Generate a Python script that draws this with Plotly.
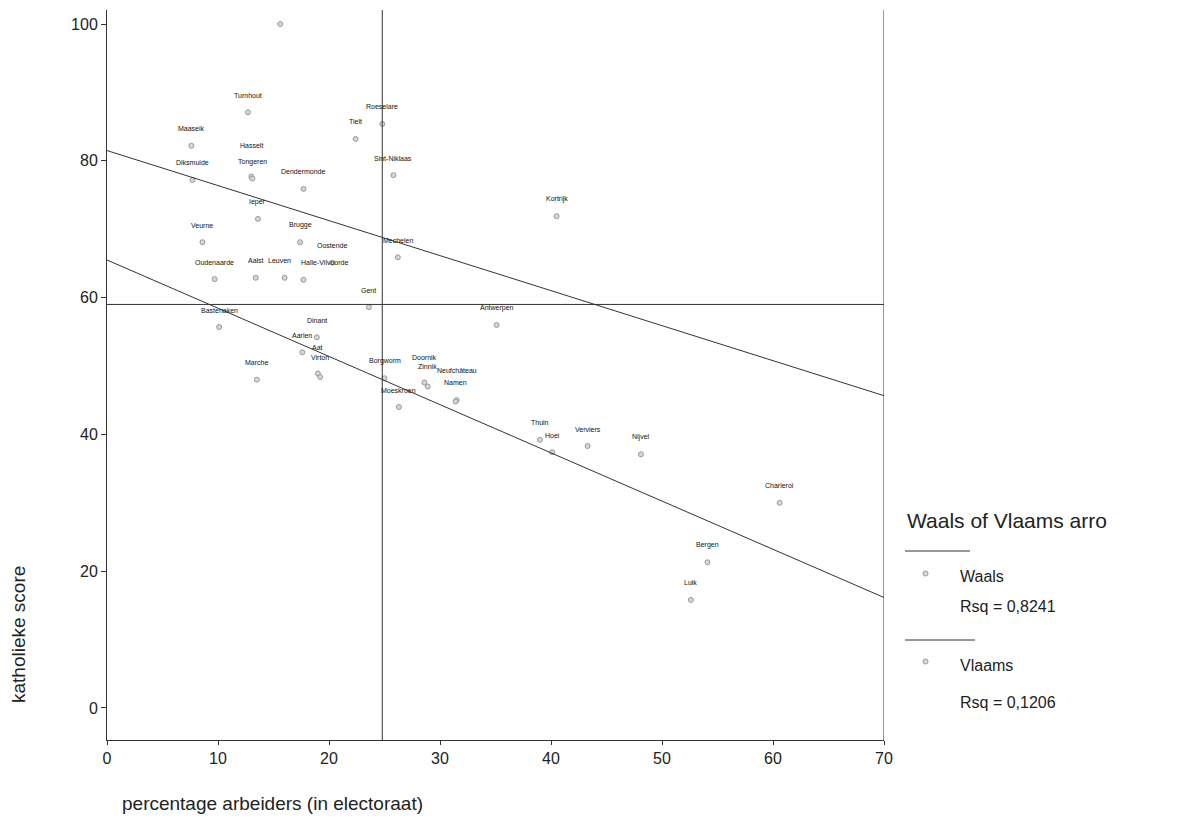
import numpy as np
import plotly.graph_objects as go

# ---- data ----
vlaams_names = ["", "Turnhout", "Maaseik", "Diksmuide", "Hasselt", "Tongeren", "Dendermonde",
                "Ieper", "Veurne", "Brugge", "Oostende", "Oudenaarde", "Aalst", "Leuven",
                "Halle-Vilvoorde", "Gent", "Mechelen", "Tielt", "Roeselare", "Sint-Niklaas",
                "Kortrijk", "Antwerpen"]
vlaams_x = [15.6, 12.7, 7.6, 7.7, 13.0, 13.1, 17.7, 13.6, 8.6, 17.4, 20.3, 9.7, 13.4, 16.0,
            17.7, 23.6, 26.2, 22.4, 24.8, 25.8, 40.5, 35.1]
vlaams_y = [100.0, 87.1, 82.2, 77.2, 77.7, 77.4, 75.9, 71.5, 68.1, 68.1, 65.1, 62.7, 62.9, 62.9,
            62.6, 58.6, 65.9, 83.2, 85.4, 77.9, 71.9, 56.0]

waals_names = ["Bastenaken", "Dinant", "Aarlen", "Aat", "Virton", "Marche", "Borgworm",
               "Doornik", "Zinnik", "Neufchâteau", "Namen", "Moeskroen", "Thuin", "Hoei",
               "Verviers", "Nijvel", "Charleroi", "Bergen", "Luik"]
waals_x = [10.1, 18.9, 17.6, 19.0, 19.2, 13.5, 25.0, 28.6, 28.9, 31.5, 31.4, 26.3, 39.0, 40.1,
           43.3, 48.1, 60.6, 54.1, 52.6]
waals_y = [55.7, 54.2, 52.0, 48.9, 48.4, 48.0, 48.2, 47.6, 47.0, 45.0, 44.8, 44.0, 39.2, 37.4,
           38.3, 37.1, 30.0, 21.3, 15.8]

# regression fits (intercept, slope) and R squared
vlaams_fit = [81.5, -0.512]
waals_fit = [65.5, -0.705]
rsq_waals = "0,8241"
rsq_vlaams = "0,1206"

# reference (mean) lines
mean_x = 24.8
mean_y = 59.0

x_ticks = [0, 10, 20, 30, 40, 50, 60, 70]
y_ticks = [0, 20, 40, 60, 80, 100]

# ---- label offsets (pixels, styling only) ----
extra_shift = {"Hasselt": 14, "Aat": 9, "Virton": 2, "Doornik": 8, "Zinnik": 3,
               "Neufchâteau": 13, "Namen": 2}
extra_xshift = {"Leuven": -5, "Halle-Vilvoorde": 21}

fig = go.Figure()

marker_style = dict(size=5, color="#d6d6d6", line=dict(color="#9a9a9a", width=1))

fig.add_trace(go.Scatter(x=vlaams_x, y=vlaams_y, mode="markers", marker=marker_style,
                         name="Vlaams", showlegend=False))
fig.add_trace(go.Scatter(x=waals_x, y=waals_y, mode="markers", marker=marker_style,
                         name="Waals", showlegend=False))

xs = np.array([0, 70])
for fit in (vlaams_fit, waals_fit):
    fig.add_trace(go.Scatter(x=xs, y=fit[0] + fit[1] * xs, mode="lines",
                             line=dict(color="#333333", width=1), showlegend=False,
                             hoverinfo="skip"))

annotations = []
for names, xv, yv in ((vlaams_names, vlaams_x, vlaams_y), (waals_names, waals_x, waals_y)):
    for n, x, y in zip(names, xv, yv):
        if not n:
            continue
        annotations.append(dict(x=x, y=y, xref="x", yref="y", text=n, showarrow=False,
                                yshift=17 + extra_shift.get(n, 0),
                                xshift=extra_xshift.get(n, 0),
                                font=dict(size=7, color="#111111", family="Liberation Sans")))

# legend as annotations
legend_font = dict(size=16, color="#222222", family="Liberation Sans")
annotations += [
    dict(x=905, y=820 - 520, xref="paper", yref="paper", text="Waals of Vlaams arro",
         showarrow=False, xanchor="left", yanchor="middle",
         font=dict(size=21, color="#222222", family="Liberation Sans")),
    dict(x=958, y=820 - 576, text="Waals", showarrow=False, xanchor="left", yanchor="middle",
         font=legend_font),
    dict(x=958, y=820 - 606, text="Rsq = " + rsq_waals, showarrow=False, xanchor="left",
         yanchor="middle", font=legend_font),
    dict(x=958, y=820 - 665, text="Vlaams", showarrow=False, xanchor="left", yanchor="middle",
         font=legend_font),
    dict(x=958, y=820 - 702, text="Rsq = " + rsq_vlaams, showarrow=False, xanchor="left",
         yanchor="middle", font=legend_font),
]
# convert legend pixel coordinates to paper coords
W, H = 1196, 820
ML, MR, MT, MB = 107, 312, 10, 80
pw, ph = W - ML - MR, H - MT - MB
for a in annotations:
    if a.get("xref") == "x":
        continue
    px, py = a["x"], a["y"]
    a["x"] = (px - ML) / pw
    a["y"] = (py - MB) / ph
    a["xref"] = "paper"
    a["yref"] = "paper"

# x-axis title and y-axis title as annotations
annotations.append(dict(x=(120 - ML) / pw, y=(820 - 803 - MB) / ph, xref="paper", yref="paper",
                        text="percentage arbeiders (in electoraat)", showarrow=False,
                        xanchor="left", yanchor="middle",
                        font=dict(size=19, color="#222222", family="Liberation Sans")))
annotations.append(dict(x=(18 - ML) / pw, y=(820 - 635 - MB) / ph, xref="paper", yref="paper",
                        text="katholieke score", showarrow=False, textangle=-90,
                        xanchor="center", yanchor="middle",
                        font=dict(size=19, color="#222222", family="Liberation Sans")))

def ppx(px):
    return (px - ML) / pw

def ppy(py):
    return (H - py - MB) / ph

shapes = [
    # reference lines
    dict(type="line", xref="x", yref="paper", x0=mean_x, x1=mean_x, y0=0, y1=1,
         line=dict(color="#333333", width=1)),
    dict(type="line", xref="x", yref="y", x0=0, x1=70, y0=mean_y, y1=mean_y,
         line=dict(color="#333333", width=1)),
    # right frame line
    dict(type="line", xref="x", yref="paper", x0=70, x1=70, y0=0, y1=1,
         line=dict(color="#333333", width=1)),
    # legend lines
    dict(type="line", xref="paper", yref="paper", x0=ppx(905), x1=ppx(970), y0=ppy(551),
         y1=ppy(551), line=dict(color="#333333", width=1)),
    dict(type="line", xref="paper", yref="paper", x0=ppx(905), x1=ppx(975), y0=ppy(640),
         y1=ppy(640), line=dict(color="#333333", width=1)),
    # legend markers
    dict(type="circle", xref="paper", yref="paper", x0=ppx(923), x1=ppx(928), y0=ppy(571),
         y1=ppy(576), fillcolor="#d6d6d6", line=dict(color="#9a9a9a", width=1)),
    dict(type="circle", xref="paper", yref="paper", x0=ppx(923), x1=ppx(928), y0=ppy(659),
         y1=ppy(664), fillcolor="#d6d6d6", line=dict(color="#9a9a9a", width=1)),
]

fig.update_layout(
    width=W, height=H,
    margin=dict(l=ML, r=MR, t=MT, b=MB, pad=0),
    paper_bgcolor="white", plot_bgcolor="white",
    font=dict(family="Liberation Sans", color="#222222"),
    xaxis=dict(range=[0, 70], tickvals=x_ticks, showgrid=False, zeroline=False,
               showline=True, linecolor="#333333", linewidth=1, ticks="outside",
               ticklen=4, tickcolor="#333333", tickfont=dict(size=16)),
    yaxis=dict(range=[-4.68, 102.05], tickvals=y_ticks, showgrid=False, zeroline=False,
               showline=True, linecolor="#333333", linewidth=1, ticks="outside",
               ticklen=5, tickcolor="#333333", tickfont=dict(size=16)),
    annotations=annotations,
    shapes=shapes,
    showlegend=False,
)

fig.write_html("out.html")
